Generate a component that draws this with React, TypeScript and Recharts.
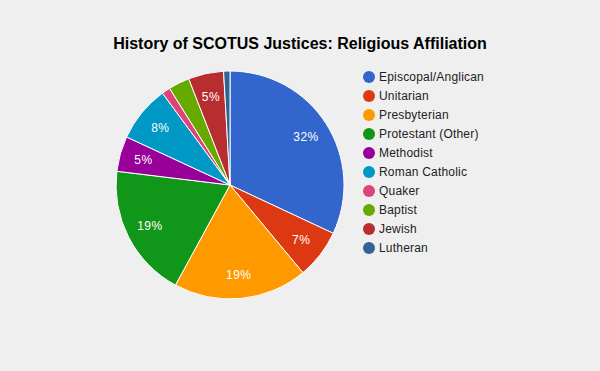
import React from "react";
import { PieChart, Pie, Cell, Legend } from "recharts";

const categories = [
  "Episcopal/Anglican",
  "Unitarian",
  "Presbyterian",
  "Protestant (Other)",
  "Methodist",
  "Roman Catholic",
  "Quaker",
  "Baptist",
  "Jewish",
  "Lutheran",
];
const shares = [32, 7, 19, 19, 5, 8, 1.2, 3, 5, 0.9];
const colors = [
  "#3366cc",
  "#dc3912",
  "#ff9900",
  "#109618",
  "#990099",
  "#0099c6",
  "#dd4477",
  "#66aa00",
  "#b82e2e",
  "#316395",
];
const title = "History of SCOTUS Justices: Religious Affiliation";

const data = categories.map((name, i) => ({ name, value: shares[i] }));
const total = shares.reduce((a, b) => a + b, 0);

const RADIAN = Math.PI / 180;
const renderLabel = (props: any) => {
  const { cx, cy, midAngle, outerRadius, value } = props;
  const pct = (value / total) * 100;
  if (pct < 4.5) return null;
  const r = outerRadius * 0.79;
  const x = cx + r * Math.cos(-midAngle * RADIAN);
  const y = cy + r * Math.sin(-midAngle * RADIAN);
  return (
    <text
      x={x}
      y={y}
      fill="#ffffff"
      textAnchor="middle"
      dominantBaseline="central"
      fontFamily="Arial, 'Liberation Sans', sans-serif"
      fontSize={12}
      letterSpacing={0.5}
    >
      {Math.round(pct) + "%"}
    </text>
  );
};

const LegendContent = () => (
  <div style={{ fontFamily: "Arial, 'Liberation Sans', sans-serif", fontSize: 12, color: "#222" }}>
    {categories.map((c, i) => (
      <div key={c} style={{ display: "flex", alignItems: "center", height: 19 }}>
        <svg width={14} height={14} style={{ marginRight: 3 }}>
          <circle cx={7} cy={7} r={6} fill={colors[i]} />
        </svg>
        <span style={{ letterSpacing: 0.2 }}>{c}</span>
      </div>
    ))}
  </div>
);

export default function App() {
  return (
    <div
      style={{
        position: "absolute",
        left: 0,
        top: 0,
        width: 600,
        height: 371,
        background: "#efefef",
      }}
    >
      <div
        style={{
          position: "absolute",
          left: 0,
          top: 35,
          width: 600,
          textAlign: "center",
          fontFamily: "Arial, 'Liberation Sans', sans-serif",
          fontWeight: "bold",
          fontSize: 16,
          color: "#000",
        }}
      >
        {title}
      </div>
      <PieChart
        width={600}
        height={371}
        margin={{ top: 0, right: 0, bottom: 0, left: 0 }}
        style={{ position: "absolute", left: 0, top: 0 }}
      >
        <Pie
          data={data}
          dataKey="value"
          nameKey="name"
          cx={230}
          cy={185}
          outerRadius={114}
          startAngle={90}
          endAngle={-270}
          stroke="#ffffff"
          strokeWidth={1}
          label={renderLabel}
          labelLine={false}
          isAnimationActive={false}
        >
          {data.map((d, i) => (
            <Cell key={d.name} fill={colors[i]} />
          ))}
        </Pie>
        <Legend
          layout="vertical"
          content={<LegendContent />}
          wrapperStyle={{ position: "absolute", left: 362, top: 67, width: 200 }}
        />
      </PieChart>
    </div>
  );
}
